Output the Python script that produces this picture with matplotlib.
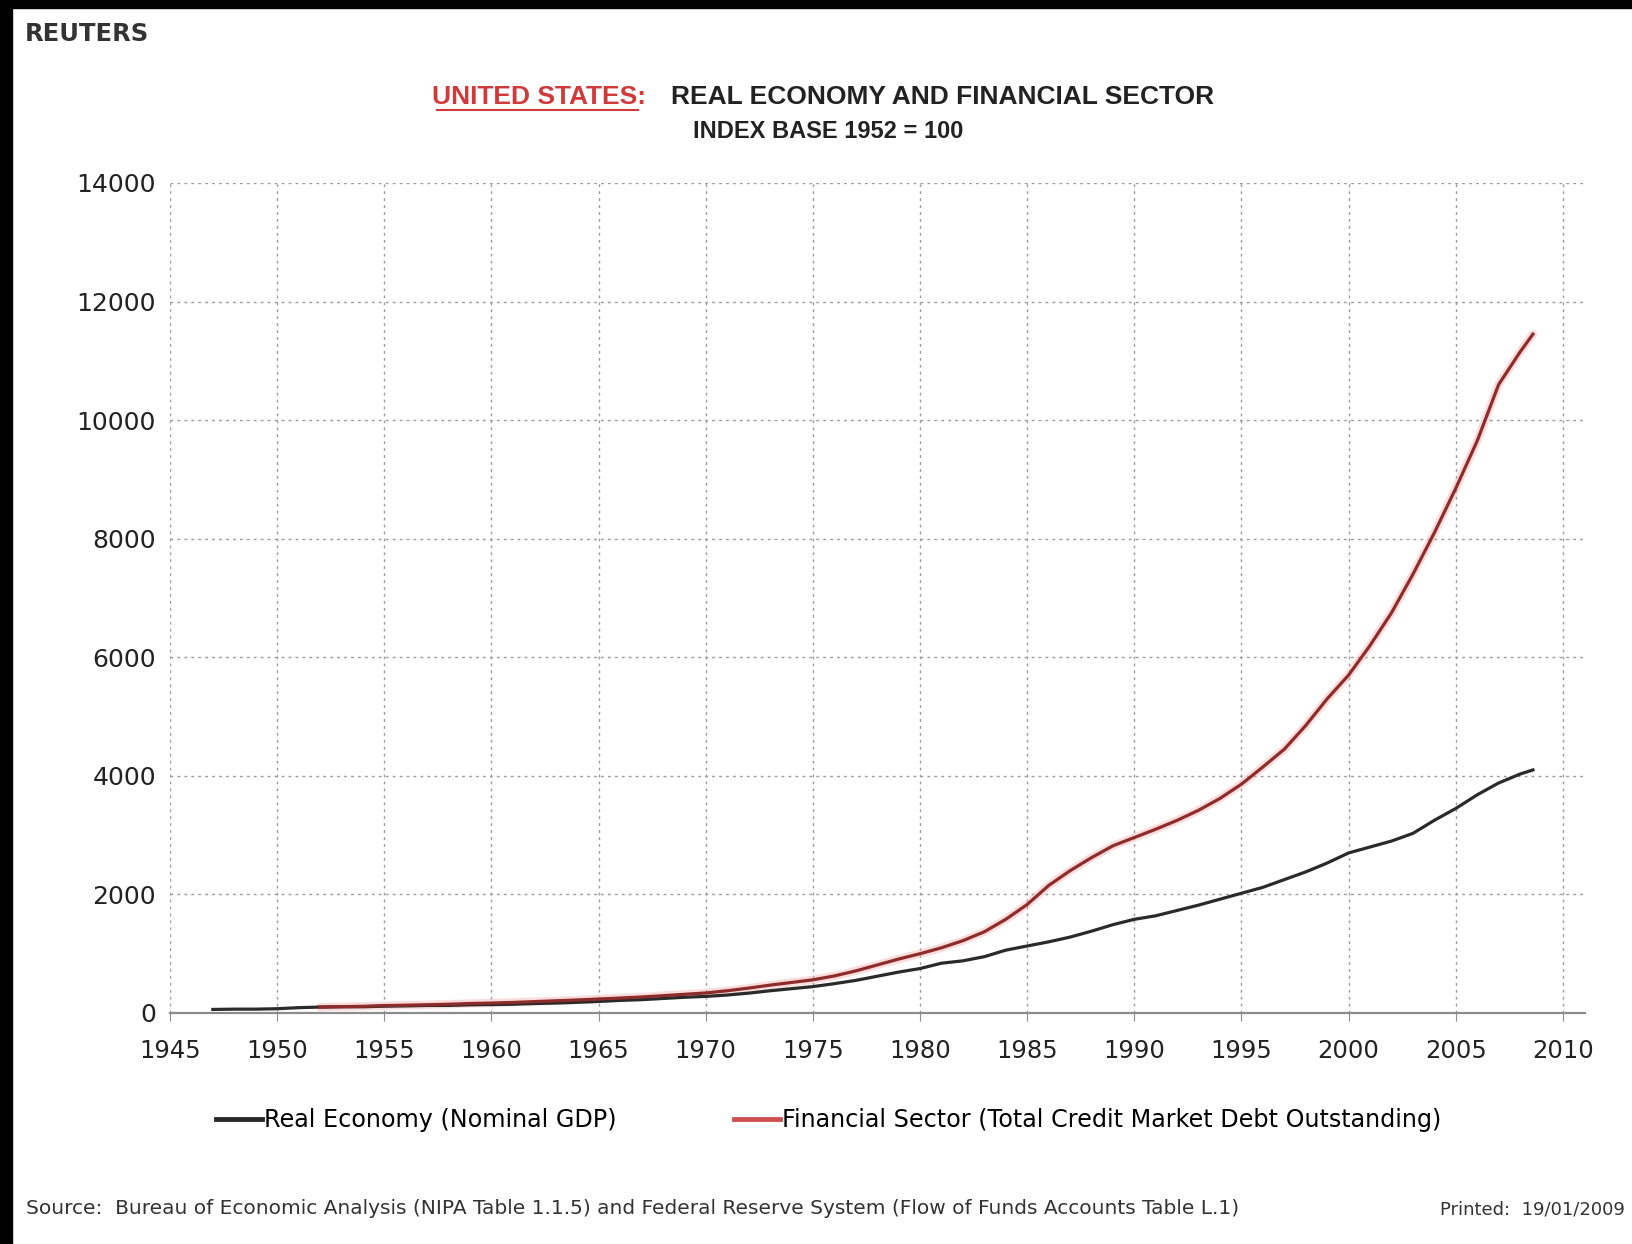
import matplotlib.pyplot as plt
from matplotlib.lines import Line2D
from matplotlib.patches import Rectangle

# index values, base 1952 = 100
gdp_years = [1947, 1948, 1949, 1950, 1951, 1952, 1953, 1954, 1955, 1956, 1957, 1958, 1959,
             1960, 1961, 1962, 1963, 1964, 1965, 1966, 1967, 1968, 1969, 1970, 1971, 1972,
             1973, 1974, 1975, 1976, 1977, 1978, 1979, 1980, 1981, 1982, 1983, 1984, 1985,
             1986, 1987, 1988, 1989, 1990, 1991, 1992, 1993, 1994, 1995, 1996, 1997, 1998,
             1999, 2000, 2001, 2002, 2003, 2004, 2005, 2006, 2007, 2008, 2008.6]
gdp_index = [60, 65, 65, 72, 90, 100, 105, 105, 115, 120, 127, 128, 138,
             143, 148, 160, 168, 180, 195, 213, 225, 245, 265, 280, 303, 335,
             375, 410, 445, 495, 550, 620, 690, 750, 840, 880, 950, 1060, 1130,
             1200, 1280, 1380, 1490, 1580, 1640, 1730, 1820, 1920, 2020, 2120, 2250, 2380,
             2530, 2700, 2800, 2900, 3030, 3250, 3450, 3680, 3880, 4030, 4100]

debt_years = [1952, 1953, 1954, 1955, 1956, 1957, 1958, 1959, 1960, 1961, 1962, 1963,
              1964, 1965, 1966, 1967, 1968, 1969, 1970, 1971, 1972, 1973, 1974, 1975,
              1976, 1977, 1978, 1979, 1980, 1981, 1982, 1983, 1984, 1985, 1986, 1987,
              1988, 1989, 1990, 1991, 1992, 1993, 1994, 1995, 1996, 1997, 1998, 1999,
              2000, 2001, 2002, 2003, 2004, 2005, 2006, 2007, 2008, 2008.6]
debt_index = [100, 107, 113, 125, 132, 139, 148, 160, 168, 178, 192, 206,
              220, 236, 252, 270, 292, 315, 338, 375, 420, 470, 515, 560,
              625, 710, 810, 910, 1000, 1100, 1220, 1370, 1580, 1830, 2150, 2400,
              2620, 2820, 2960, 3100, 3250, 3420, 3620, 3860, 4150, 4450, 4850, 5300,
              5700, 6200, 6750, 7400, 8100, 8850, 9650, 10600, 11150, 11450]

x_ticks = list(range(1945, 2011, 5))
y_ticks = list(range(0, 14001, 2000))

W, H = 1632, 1244
fig = plt.figure(figsize=(W / 100, H / 100), dpi=100)
fig.patch.set_facecolor('white')

ax = fig.add_axes([170 / W, 1 - 1013 / H, (1585 - 170) / W, (1013 - 183) / H])
ax.plot(debt_years, debt_index, color='#f5a8a8', lw=6, alpha=0.4, solid_capstyle='round')
ax.plot(gdp_years, gdp_index, color='#2a2a2a', lw=2.3, label='Real Economy (Nominal GDP)')
ax.plot(debt_years, debt_index, color='#8e2b2b', lw=2.3,
        label='Financial Sector (Total Credit Market Debt Outstanding)')

ax.set_xlim(1945, 2011.03)
ax.set_ylim(0, 14000)
ax.set_xticks(x_ticks)
ax.set_yticks(y_ticks)
ax.grid(color='#9a9a9a', linestyle=(0, (2, 3)), linewidth=1)
ax.set_axisbelow(True)
for s in ['left', 'top', 'right']:
    ax.spines[s].set_visible(False)
ax.spines['bottom'].set_color('#8c8c8c')
ax.spines['bottom'].set_linewidth(1.6)
ax.tick_params(axis='x', direction='out', length=6, color='#8c8c8c', pad=13,
               labelsize=17.5, labelcolor='#222222')
ax.tick_params(axis='y', length=0, pad=10, labelsize=18, labelcolor='#222222')

# legend below the plot
leg_handles = [Line2D([], [], color='#2a2a2a', lw=3.5),
               Line2D([], [], color='#d05050', lw=3.5)]
fig.legend(leg_handles, ['Real Economy (Nominal GDP)',
                         'Financial Sector (Total Credit Market Debt Outstanding)'],
           loc='center', bbox_to_anchor=(829 / W, 1 - 1120 / H), ncol=2, frameon=False,
           fontsize=17.2, handlelength=1.9, handletextpad=0.12, columnspacing=4.9)

# titles
fig.text(25 / W, 1 - 34 / H, 'REUTERS', ha='left', va='center', fontsize=17.5,
         fontweight='bold', color='#333333')
fig.text(646 / W, 1 - 97 / H, 'UNITED STATES:', ha='right', va='center', fontsize=19,
         fontweight='bold', color='#d03a3a', family='Liberation Sans')
fig.add_artist(Line2D([437 / W, 638 / W], [1 - 110 / H, 1 - 110 / H], color='#d03a3a',
                      lw=1.5, transform=fig.transFigure))
fig.text(671 / W, 1 - 97 / H, 'REAL ECONOMY AND FINANCIAL SECTOR', ha='left', va='center',
         fontsize=19, fontweight='bold', color='#222222', family='Liberation Sans')
fig.text(828 / W, 1 - 132 / H, 'INDEX BASE 1952 = 100', ha='center', va='center',
         fontsize=17, fontweight='bold', color='#222222', family='Liberation Sans')

# footer
fig.text(26 / W, 1 - 1209 / H,
         'Source:  Bureau of Economic Analysis (NIPA Table 1.1.5) and Federal Reserve System '
         '(Flow of Funds Accounts Table L.1)', ha='left', va='center', fontsize=14.5,
         color='#333333')
fig.text(1440 / W, 1 - 1209 / H, 'Printed:  19/01/2009', ha='left', va='center',
         fontsize=13, color='#333333')

# black border strips of the screenshot
fig.add_artist(Rectangle((0, 1 - 8 / H), 1, 8 / H, transform=fig.transFigure, color='black'))
fig.add_artist(Rectangle((0, 0), 12 / W, 1, transform=fig.transFigure, color='black'))

fig.savefig('out.png', dpi=100)
